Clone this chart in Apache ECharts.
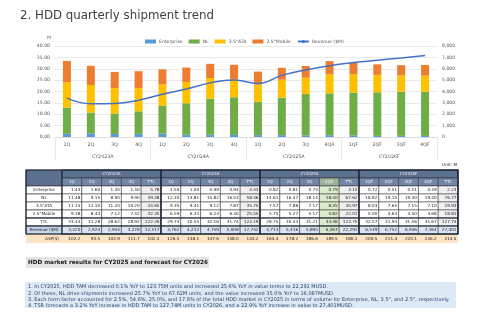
<!DOCTYPE html>
<html>
<head>
<meta charset="utf-8">
<script src="https://cdn.jsdelivr.net/npm/echarts@6/dist/echarts.min.js"></script>
<style>
  html, body { margin: 0; padding: 0; background: #fff; }
  #chart { width: 480px; height: 322px; }
</style>
</head>
<body>
<div id="chart"></div>
<script>
// Quarterly HDD shipments (M units) by form factor, revenue ($M) and ASP ($)
const quarters = ['1Q', '2Q', '3Q', '4Q', '1Q', '2Q', '3Q', '4Q', '1Q', '2Q', '3Q', '4QA', '1QF', '2QF', '3QF', '4QF'];
const years = ['CY2023A', 'CY2024A', 'CY2025A', 'CY2026F'];
const enterprise = [1.43, 1.60, 1.35, 1.40, 1.50, 1.00, 0.99, 0.94, 0.82, 0.81, 0.73, 0.79, 0.72, 0.51, 0.51, 0.49];
const nearline = [11.48, 9.15, 8.95, 9.90, 12.30, 13.81, 15.82, 16.53, 14.61, 16.47, 18.14, 18.40, 18.82, 19.15, 19.40, 19.40];
const ata35 = [11.15, 12.10, 11.20, 10.20, 9.35, 9.41, 9.12, 7.87, 7.57, 7.88, 7.17, 8.35, 8.03, 7.65, 7.15, 7.10];
const mobile25 = [9.38, 8.43, 7.12, 7.42, 6.59, 6.33, 6.23, 6.40, 5.75, 5.27, 5.17, 5.82, 5.00, 4.63, 4.50, 4.68];
const revenue = [3420, 2924, 2944, 3229, 3762, 4212, 4759, 5009, 4713, 5416, 5895, 6267, 6539, 6752, 6946, 7164];
const aspQuarter = [102.2, 93.5, 102.9, 111.7, 126.5, 138.1, 147.6, 158.0, 164.4, 178.2, 186.6, 189.5, 200.5, 211.4, 220.1, 226.2];
const aspYear = [102.3, 143.2, 180.1, 214.5];
const shareTicks = ['0.00', '5.00', '10.00', '15.00', '20.00', '25.00', '30.00', '35.00', '40.00'];

const notesTitle = 'HDD market results for CY2025 and forecast for CY2026';
const notes = [
  '1. In CY2025, HDD TAM decreased 0.1% YoY to 123.75M units and increased 25.6% YoY in value terms to 22,291 MUSD.',
  '2. Of these, NL drive shipments increased 25.7% YoY to 67.62M units, and the value increased 35.0% YoY to 16,087MUSD.',
  '3. Each form factor accounted for 2.5%, 54.6%, 25.0%, and 17.8% of the total HDD market in CY2025 in terms of volume for Enterprise, NL, 3.5", and 2.5", respectively.',
  '4. TSR forecasts a 3.2% YoY increase in HDD TAM to 127.74M units in CY2026, and a 22.9% YoY increase in value to 27,401MUSD.'
];

const COLORS = { ent: '#5b9bd5', nl: '#70ad47', ata: '#ffc000', mob: '#ed7d31', rev: '#4472c4' };
const AXIS_TEXT = '#595959';
const FONT = 'DejaVu Sans';

const fmt2 = v => v.toFixed(2);
const fmtInt = v => Math.round(v).toLocaleString('en-US');
const sum = a => a.reduce((s, v) => s + v, 0);

// ---------- summary table ----------
const T = { x0: 26, labelW: 36, colW: 19.8, groupW: 99 };
const dataRows = [
  { name: 'Enterprise', vals: enterprise, kind: 'num', y: [186, 194] },
  { name: 'NL', vals: nearline, kind: 'num', y: [194, 202] },
  { name: '3.5"ATA', vals: ata35, kind: 'num', y: [202, 210] },
  { name: '2.5"Mobile', vals: mobile25, kind: 'num', y: [210, 218] },
  { name: 'TTL', vals: enterprise.map((v, i) => v + nearline[i] + ata35[i] + mobile25[i]), kind: 'num', y: [218, 226] },
  { name: 'Revenue ($M)', vals: revenue, kind: 'int', y: [226, 234] }
];

const g = [];
function cell(x, y, w, h, fill, stroke, lw) {
  g.push({ type: 'rect', shape: { x, y, width: w, height: h }, style: { fill, stroke: stroke || null, lineWidth: lw || 0 }, z: 10 });
}
function txt(x, y, s, opt) {
  g.push({ type: 'text', x, y, z: 20, style: Object.assign({ text: s, fontFamily: FONT, fontSize: 4.2, fill: '#222', align: 'center', verticalAlign: 'middle' }, opt || {}) });
}
function colLeft(gi, ci) { return T.x0 + T.labelW + gi * T.groupW + ci * T.colW; }

const tableRight = colLeft(3, 5);
// ASP band
cell(T.x0, 234, tableRight - T.x0, 9, '#fce4c4');
txt(T.x0 + T.labelW - 3, 238.5, 'ASP($)', { align: 'right' });
// header rows
cell(T.x0, 170, T.labelW, 16, '#5d7090', '#2b2b2b', 0.6);
years.forEach((yname, gi) => {
  cell(colLeft(gi, 0), 170, T.groupW, 8, '#5d7090', '#2b2b2b', 0.6);
  txt(colLeft(gi, 0) + T.groupW / 2, 174, yname, { fill: '#e8edf5', fontSize: 4 });
  for (let ci = 0; ci < 5; ci++) {
    const qi = gi * 4 + ci;
    const label = ci < 4 ? quarters[qi] : 'TTL';
    const hl = gi === 2 && ci === 3;
    cell(colLeft(gi, ci), 178, T.colW, 8, hl ? '#9db39a' : '#7286a6', '#2b2b2b', 0.5);
    txt(colLeft(gi, ci) + T.colW / 2, 182, label, { fill: '#f4f6fa', fontSize: 4 });
  }
});
// body rows
dataRows.forEach(r => {
  const h = r.y[1] - r.y[0];
  const isRev = r.kind === 'int';
  cell(T.x0, r.y[0], T.labelW, h, isRev ? '#c6d6ec' : '#ffffff', '#2b2b2b', 0.6);
  txt(T.x0 + T.labelW / 2, (r.y[0] + r.y[1]) / 2, r.name);
  years.forEach((yname, gi) => {
    const qv = r.vals.slice(gi * 4, gi * 4 + 4);
    for (let ci = 0; ci < 5; ci++) {
      const v = ci < 4 ? qv[ci] : sum(qv);
      let fill = isRev ? '#dce6f2' : (ci === 4 ? '#f0f0f0' : '#ffffff');
      if (gi === 2 && ci === 3) fill = isRev ? '#d6e6cf' : '#dcebcc';
      cell(colLeft(gi, ci), r.y[0], T.colW, h, fill, '#2b2b2b', 0.5);
      txt(colLeft(gi, ci) + T.colW - 1.5, (r.y[0] + r.y[1]) / 2, isRev ? fmtInt(v) : fmt2(v), { align: 'right' });
    }
  });
});
// ASP values
years.forEach((yname, gi) => {
  for (let ci = 0; ci < 5; ci++) {
    const v = ci < 4 ? aspQuarter[gi * 4 + ci] : aspYear[gi];
    txt(colLeft(gi, ci) + T.colW - 1.5, 238.5, v.toFixed(1), { align: 'right' });
  }
});
// heavy outlines: whole table, group blocks, TTL row
g.push({ type: 'rect', z: 30, shape: { x: T.x0, y: 170, width: tableRight - T.x0, height: 64 }, style: { fill: null, stroke: '#1f2a3a', lineWidth: 1.2 } });
years.forEach((yname, gi) => {
  g.push({ type: 'rect', z: 30, shape: { x: colLeft(gi, 0), y: 170, width: T.groupW, height: 64 }, style: { fill: null, stroke: '#1f2a3a', lineWidth: 1.1 } });
});
g.push({ type: 'line', z: 30, shape: { x1: T.x0, y1: 218, x2: tableRight, y2: 218 }, style: { stroke: '#1f2a3a', lineWidth: 1.1 } });
g.push({ type: 'line', z: 30, shape: { x1: T.x0, y1: 226, x2: tableRight, y2: 226 }, style: { stroke: '#1f2a3a', lineWidth: 1.1 } });

// ---------- title, unit and notes ----------
g.push({ type: 'text', left: 20, top: 10, z: 20, style: { text: '2. HDD quarterly shipment trend', fontFamily: FONT, fontSize: 11.8, fill: '#404040' } });
txt(457, 165, 'Unit: M', { align: 'right', fontSize: 4.2 });
cell(26, 257, 183, 11, '#e4e4e4');
txt(28, 262.5, notesTitle, { align: 'left', fontSize: 5.7, fontWeight: 'bold', fill: '#1a1a1a' });
cell(25, 282, 431, 26, '#dde9f5');
notes.forEach((line, i) => txt(28, 287 + i * 6.3, line, { align: 'left', fontSize: 5, fill: '#2a3f66' }));

// ---------- chart ----------
const chart = echarts.init(document.getElementById('chart'), null, { renderer: 'canvas' });
const barSeries = (name, data, color) => ({
  name, type: 'bar', stack: 'units', data, barWidth: 8,
  itemStyle: { color }, emphasis: { disabled: true }
});
chart.setOption({
  animation: false,
  backgroundColor: '#ffffff',
  textStyle: { fontFamily: FONT },
  legend: {
    top: 34, left: 140, itemWidth: 11, itemHeight: 4, itemGap: 6,
    textStyle: { fontSize: 4.6, color: AXIS_TEXT, padding: [0, 0, 0, -2] },
    data: [
      { name: 'Enterprise', icon: 'rect' }, { name: 'NL', icon: 'rect' },
      { name: '3.5"ATA', icon: 'rect' }, { name: '2.5"Mobile', icon: 'rect' },
      { name: 'Revenue ($M)' }
    ]
  },
  grid: { left: 55, right: 43, top: 46, bottom: 185 },
  xAxis: [
    {
      type: 'category', data: quarters,
      axisLine: { lineStyle: { color: '#d9d9d9', width: 0.8 } },
      axisTick: { show: false },
      axisLabel: { color: AXIS_TEXT, fontSize: 4.8, margin: 5, interval: 0 }
    },
    {
      type: 'category', data: years, position: 'bottom',
      axisLine: { show: false },
      axisTick: { show: true, length: 24, lineStyle: { color: '#e3e3e3', width: 0.8 } },
      axisLabel: { color: AXIS_TEXT, fontSize: 4.8, margin: 17 }
    }
  ],
  yAxis: [
    {
      type: 'value', min: 0, max: 40, interval: 5, name: 'M', nameGap: 6,
      nameTextStyle: { fontSize: 4.6, color: AXIS_TEXT, align: 'right', padding: [0, 4, 0, 0] },
      axisLabel: { color: AXIS_TEXT, fontSize: 4.6, margin: 5, formatter: v => shareTicks[v / 5] },
      splitLine: { lineStyle: { color: '#e3e3e3', width: 0.8 } },
      axisLine: { show: false }, axisTick: { show: false }
    },
    {
      type: 'value', min: 0, max: 8000, interval: 1000,
      axisLabel: { color: AXIS_TEXT, fontSize: 4.6, margin: 5, formatter: v => fmtInt(v) },
      splitLine: { show: false }, axisLine: { show: false }, axisTick: { show: false }
    }
  ],
  series: [
    barSeries('Enterprise', enterprise, COLORS.ent),
    barSeries('NL', nearline, COLORS.nl),
    barSeries('3.5"ATA', ata35, COLORS.ata),
    barSeries('2.5"Mobile', mobile25, COLORS.mob),
    {
      name: 'Revenue ($M)', type: 'line', yAxisIndex: 1, data: revenue, smooth: 0.45,
      symbol: 'none', lineStyle: { color: COLORS.rev, width: 1.5 }, itemStyle: { color: COLORS.rev },
      emphasis: { disabled: true }, z: 5
    }
  ],
  graphic: g
});
</script>
</body>
</html>
